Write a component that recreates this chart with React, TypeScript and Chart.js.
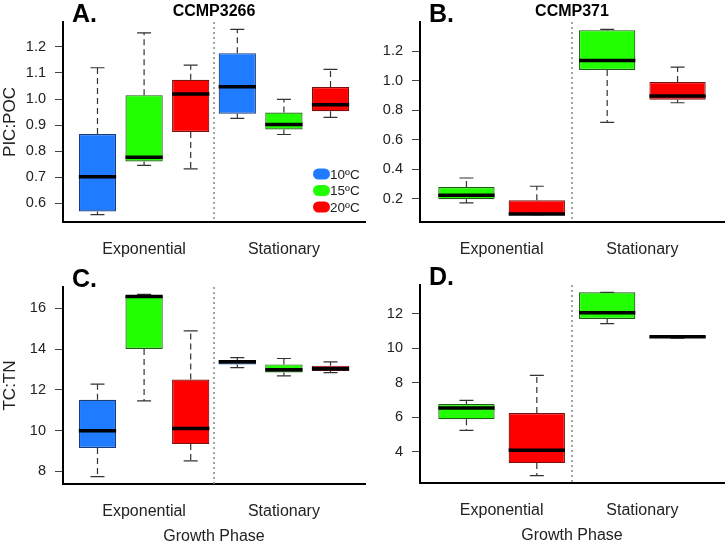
import React, { useEffect, useRef } from 'react';
import { Chart, registerables } from 'chart.js';

Chart.register(...registerables);

// ---------- data ----------
const phases = ['Exponential', 'Stationary'];
const temps = ['10ºC', '15ºC', '20ºC'];
const tempColors = ['#1f7bff', '#22ff00', '#ff0000'];
const tempBorders = ['#1b3c7a', '#1c5c12', '#7a0f0f'];

// Panel A: CCMP3266, PIC:POC (10, 15, 20 ºC exponential, then stationary)
const aTemp = [0, 1, 2, 0, 1, 2];
const aMin = [0.557, 0.746, 0.732, 0.926, 0.864, 0.93];
const aQ1 = [0.569, 0.761, 0.874, 0.944, 0.883, 0.953];
const aMed = [0.702, 0.777, 1.019, 1.047, 0.902, 0.978];
const aQ3 = [0.866, 1.015, 1.074, 1.176, 0.948, 1.046];
const aMax = [1.12, 1.254, 1.13, 1.267, 0.999, 1.114];
const aTicks = [0.6, 0.7, 0.8, 0.9, 1.0, 1.1, 1.2];

// Panel B: CCMP371, PIC:POC (15, 20 ºC)
const bTemp = [1, 2, 1, 2];
const bMin = [0.173, 0.094, 0.719, 0.852];
const bQ1 = [0.198, 0.095, 1.074, 0.873];
const bMed = [0.225, 0.098, 1.139, 0.898];
const bQ3 = [0.281, 0.191, 1.344, 0.992];
const bMax = [0.342, 0.286, 1.349, 1.094];
const bTicks = [0.2, 0.4, 0.6, 0.8, 1.0, 1.2];

// Panel C: CCMP3266, TC:TN
const cTemp = [0, 1, 2, 0, 1, 2];
const cMin = [7.74, 11.46, 8.52, 13.09, 12.69, 12.85];
const cQ1 = [9.15, 14.01, 9.34, 13.25, 12.85, 12.93];
const cMed = [9.99, 16.58, 10.1, 13.38, 12.99, 13.04];
const cQ3 = [11.51, 16.61, 12.51, 13.45, 13.25, 13.19];
const cMax = [12.28, 16.69, 14.9, 13.58, 13.54, 13.37];
const cTicks = [8, 10, 12, 14, 16];

// Panel D: CCMP371, TC:TN
const dTemp = [1, 2, 1, 2];
const dMin = [5.23, 2.6, 11.42, 10.58];
const dQ1 = [5.87, 3.33, 11.69, 10.6];
const dMed = [6.52, 4.08, 12.04, 10.65];
const dQ3 = [6.75, 6.23, 13.23, 10.69];
const dMax = [6.96, 8.42, 13.23, 10.7];
const dTicks = [4, 6, 8, 10, 12];

const FONT = "'Liberation Sans', Arial, Helvetica, sans-serif";
const W = 727;
const H = 547;

type Panel = {
  letter: string;
  title?: string;
  yTitle?: string;
  xTitle?: string;
  legend?: boolean;
  temp: number[];
  min: number[];
  q1: number[];
  med: number[];
  q3: number[];
  max: number[];
  ticks: number[];
  decimals: number;
  area: { left: number; top: number; right: number; bottom: number };
};

const panels: Panel[] = [
  { letter: 'A.', title: 'CCMP3266', yTitle: 'PIC:POC', legend: true, temp: aTemp, min: aMin, q1: aQ1, med: aMed, q3: aQ3, max: aMax, ticks: aTicks, decimals: 1, area: { left: 63, top: 22, right: 365, bottom: 222 } },
  { letter: 'B.', title: 'CCMP371', temp: bTemp, min: bMin, q1: bQ1, med: bMed, q3: bQ3, max: bMax, ticks: bTicks, decimals: 1, area: { left: 420, top: 22, right: 724, bottom: 222 } },
  { letter: 'C.', yTitle: 'TC:TN', xTitle: 'Growth Phase', temp: cTemp, min: cMin, q1: cQ1, med: cMed, q3: cQ3, max: cMax, ticks: cTicks, decimals: 0, area: { left: 63, top: 287, right: 365, bottom: 484 } },
  { letter: 'D.', xTitle: 'Growth Phase', temp: dTemp, min: dMin, q1: dQ1, med: dMed, q3: dQ3, max: dMax, ticks: dTicks, decimals: 0, area: { left: 420, top: 285, right: 724, bottom: 483 } },
];

function makePlugin(p: Panel) {
  const n = p.temp.length;
  return {
    id: 'boxExtras',
    beforeDatasetsDraw(chart: any) {
      const ctx = chart.ctx;
      const xs = chart.scales.x;
      const ys = chart.scales.y;
      const ca = chart.chartArea;
      // separator between phases
      const sx = xs.getPixelForValue(n / 2 + 0.5);
      ctx.save();
      ctx.strokeStyle = '#888';
      ctx.lineWidth = 1.5;
      ctx.setLineDash([2, 3]);
      ctx.beginPath();
      ctx.moveTo(sx, ca.top);
      ctx.lineTo(sx, ca.bottom);
      ctx.stroke();
      // whiskers
      ctx.strokeStyle = '#333';
      ctx.lineWidth = 1.2;
      for (let i = 0; i < n; i++) {
        const x = xs.getPixelForValue(i + 1);
        const yMax = ys.getPixelForValue(p.max[i]);
        const yQ3 = ys.getPixelForValue(p.q3[i]);
        const yMin = ys.getPixelForValue(p.min[i]);
        const yQ1 = ys.getPixelForValue(p.q1[i]);
        ctx.setLineDash([6, 4]);
        ctx.beginPath();
        ctx.moveTo(x, yQ3);
        ctx.lineTo(x, yMax);
        ctx.moveTo(x, yQ1);
        ctx.lineTo(x, yMin);
        ctx.stroke();
        ctx.setLineDash([]);
        ctx.beginPath();
        ctx.moveTo(x - 7, yMax);
        ctx.lineTo(x + 7, yMax);
        ctx.moveTo(x - 7, yMin);
        ctx.lineTo(x + 7, yMin);
        ctx.stroke();
      }
      ctx.restore();
    },
    afterDatasetsDraw(chart: any) {
      const ctx = chart.ctx;
      const ys = chart.scales.y;
      const meta = chart.getDatasetMeta(0);
      ctx.save();
      ctx.strokeStyle = '#000';
      ctx.lineWidth = 3.5;
      for (let i = 0; i < n; i++) {
        const bar = meta.data[i] as any;
        const y = ys.getPixelForValue(p.med[i]);
        ctx.beginPath();
        ctx.moveTo(bar.x - bar.width / 2, y);
        ctx.lineTo(bar.x + bar.width / 2, y);
        ctx.stroke();
      }
      ctx.restore();
    },
    afterDraw(chart: any) {
      const ctx = chart.ctx;
      const ca = chart.chartArea;
      ctx.save();
      ctx.fillStyle = '#000';
      ctx.textBaseline = 'alphabetic';
      ctx.textAlign = 'left';
      ctx.font = `bold 25px ${FONT}`;
      ctx.fillText(p.letter, ca.left + 9, ca.top);
      if (p.title) {
        ctx.font = `bold 16px ${FONT}`;
        ctx.textAlign = 'center';
        ctx.fillText(p.title, (ca.left + ca.right) / 2, ca.top - 6);
      }
      if (p.legend) {
        ctx.font = `13.5px ${FONT}`;
        ctx.textAlign = 'left';
        ctx.textBaseline = 'middle';
        for (let k = 0; k < temps.length; k++) {
          const cy = ca.bottom - 48 + k * 16.5;
          const x0 = ca.right - 52;
          ctx.fillStyle = tempColors[k];
          ctx.beginPath();
          (ctx as any).roundRect(x0, cy - 5.5, 17, 11, 5.5);
          ctx.fill();
          ctx.fillStyle = '#222';
          ctx.fillText(temps[k], x0 + 17, cy + 1);
        }
      }
      ctx.restore();
    },
  };
}

function makeChart(canvas: HTMLCanvasElement, p: Panel) {
  const n = p.temp.length;
  const lo = Math.min(...p.min);
  const hi = Math.max(...p.max);
  const yPad = 0.04 * (hi - lo);
  const xPad = 0.04 * n;
  const labelPos = [n / 4 + 0.5, (3 * n) / 4 + 0.5];
  const yWidth = p.yTitle ? p.area.left : 60;
  const xHeight = p.xTitle ? 62 : 40;

  return new Chart(canvas, {
    type: 'bar',
    data: {
      datasets: [
        {
          data: p.temp.map((_, i) => ({ x: i + 1, y: [p.q1[i], p.q3[i]] })) as any,
          backgroundColor: p.temp.map((t) => tempColors[t]),
          borderColor: p.temp.map((t) => tempBorders[t]),
          borderWidth: 1.2,
          borderSkipped: false,
          categoryPercentage: 0.8,
          barPercentage: 1,
        } as any,
      ],
    },
    options: {
      animation: false,
      responsive: false,
      maintainAspectRatio: false,
      events: [],
      layout: {
        padding: {
          left: p.area.left - yWidth,
          top: p.area.top,
          right: W - p.area.right,
          bottom: H - p.area.bottom - xHeight,
        },
      },
      plugins: {
        legend: { display: false },
        tooltip: { enabled: false },
        title: { display: false },
      },
      scales: {
        x: {
          type: 'linear',
          position: 'bottom',
          offset: false,
          min: 0.5 - xPad,
          max: n + 0.5 + xPad,
          grid: { display: false, drawTicks: false },
          border: { display: true, color: '#000', width: 2 },
          afterBuildTicks: (scale: any) => {
            scale.ticks = labelPos.map((v) => ({ value: v }));
          },
          afterFit: (scale: any) => {
            scale.height = xHeight;
          },
          ticks: {
            autoSkip: false,
            maxRotation: 0,
            minRotation: 0,
            padding: 18,
            color: '#222',
            font: { family: FONT, size: 16 },
            callback: (_v: any, i: number) => phases[i],
          },
          title: p.xTitle
            ? {
                display: true,
                text: p.xTitle,
                color: '#222',
                font: { family: FONT, size: 16 },
                padding: { top: 0, bottom: 0 },
              }
            : { display: false },
        },
        y: {
          type: 'linear',
          position: 'left',
          min: lo - yPad,
          max: hi + yPad,
          grid: {
            display: true,
            drawOnChartArea: false,
            drawTicks: true,
            tickLength: 8,
            color: '#444',
            lineWidth: 1,
          },
          border: { display: true, color: '#000', width: 2 },
          afterBuildTicks: (scale: any) => {
            scale.ticks = p.ticks.map((v) => ({ value: v }));
          },
          afterFit: (scale: any) => {
            scale.width = yWidth;
          },
          ticks: {
            padding: 9,
            color: '#222',
            font: { family: FONT, size: 14.5 },
            callback: (v: any) => Number(v).toFixed(p.decimals),
          },
          title: p.yTitle
            ? {
                display: true,
                text: p.yTitle,
                color: '#222',
                font: { family: FONT, size: 17 },
                padding: { top: 0, bottom: 0 },
              }
            : { display: false },
        },
      } as any,
    },
    plugins: [makePlugin(p) as any],
  });
}

function PanelCanvas({ p }: { p: Panel }) {
  const ref = useRef<HTMLCanvasElement>(null);
  useEffect(() => {
    if (!ref.current) return;
    const chart = makeChart(ref.current, p);
    return () => chart.destroy();
  }, [p]);
  return (
    <canvas
      ref={ref}
      width={W}
      height={H}
      style={{ position: 'absolute', left: 0, top: 0, width: W, height: H }}
    />
  );
}

export default function App() {
  return (
    <div
      style={{
        position: 'fixed',
        left: 0,
        top: 0,
        width: W,
        height: H,
        background: '#fff',
        overflow: 'hidden',
      }}
    >
      {panels.map((p) => (
        <PanelCanvas key={p.letter} p={p} />
      ))}
    </div>
  );
}
